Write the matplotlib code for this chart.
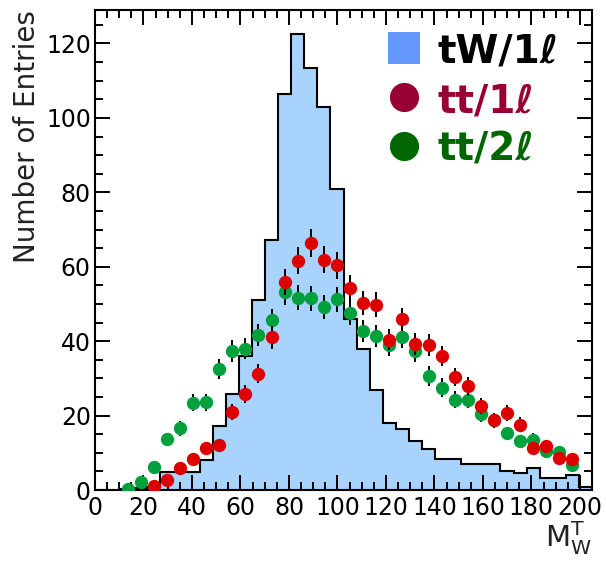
import numpy as np
import matplotlib
matplotlib.use("Agg")
import matplotlib.pyplot as plt
from matplotlib.ticker import MultipleLocator

# binning: 38 bins over the full axis range
x_max = 205.0
n_bins = 38

# tW/1l histogram (one value per bin)
tw_vals = [0, 0, 0.3, 0.6, 0.9, 4.8, 4.8, 4.8, 8.0, 17.3,
           25.7, 35.9, 51.0, 67.3, 106.4, 122.5, 113.4, 103.0, 81.0, 46.0,
           38.0, 26.9, 18.1, 16.5, 13.2, 11.1, 8.3, 8.3, 6.9, 6.9,
           6.9, 5.1, 4.7, 5.8, 3.1, 3.1, 4.1, 0.8]

# tt/1l points, bins 4..36
tt1_first = 4
tt1_vals = [1.1, 2.7, 5.8, 8.2, 11.4, 12.0, 21.0, 25.9, 31.3, 41.0,
            55.9, 61.6, 66.4, 61.9, 60.4, 54.3, 50.3, 49.8, 40.4, 45.9,
            39.2, 38.9, 36.0, 30.4, 27.9, 22.5, 18.7, 20.7, 17.6, 11.4,
            11.7, 8.6, 8.4]
tt1_errs = [0.5, 0.8, 1.1, 1.3, 1.6, 1.6, 2.1, 2.4, 2.6, 3.0,
            3.4, 3.6, 3.7, 3.6, 3.6, 3.4, 3.3, 3.3, 2.9, 3.1,
            2.9, 2.9, 2.8, 2.5, 2.4, 2.2, 2.0, 2.1, 1.9, 1.6,
            1.6, 1.4, 1.4]

# tt/2l points, bins 2..36
tt2_first = 2
tt2_vals = [0.4, 2.1, 6.2, 13.6, 16.6, 23.4, 23.6, 32.4, 37.4, 38.0,
            41.6, 45.6, 53.1, 51.7, 51.5, 49.2, 51.2, 47.6, 42.7, 41.3,
            38.9, 41.1, 37.4, 30.6, 27.5, 24.3, 24.3, 20.3, 18.7, 15.2,
            13.1, 13.5, 10.5, 10.1, 6.6]
tt2_errs = [0.3, 0.7, 1.2, 1.8, 2.0, 2.3, 2.3, 2.7, 2.9, 2.9,
            3.0, 3.1, 3.4, 3.3, 3.3, 3.3, 3.3, 3.2, 3.0, 3.0,
            2.9, 3.0, 2.9, 2.6, 2.5, 2.3, 2.3, 2.1, 2.0, 1.8,
            1.7, 1.7, 1.5, 1.5, 1.2]

legend_labels = ["tW/1ℓ", "tt/1ℓ", "tt/2ℓ"]

edges = np.linspace(0, x_max, n_bins + 1)
centers = 0.5 * (edges[:-1] + edges[1:])

plt.rcParams['font.family'] = ['DejaVu Sans']
plt.rcParams['mathtext.fontset'] = 'dejavusans'

fig = plt.figure(figsize=(6.06, 5.64), dpi=100)
ax = fig.add_axes([95 / 606, 1 - 490 / 564, 497 / 606, 480 / 564])

ax.stairs(tw_vals, edges, fill=True, color='#a8d3fc', zorder=1)
ax.stairs(tw_vals, edges, baseline=0, color='black', lw=1.5, zorder=2)

x2 = centers[tt2_first:tt2_first + len(tt2_vals)]
ax.errorbar(x2, tt2_vals, yerr=tt2_errs, fmt='none', ecolor='black',
            elinewidth=1.4, capsize=0, zorder=3)
ax.plot(x2, tt2_vals, 'o', color='#00a03c', ms=9.6, mew=0, zorder=4)

x1 = centers[tt1_first:tt1_first + len(tt1_vals)]
ax.errorbar(x1, tt1_vals, yerr=tt1_errs, fmt='none', ecolor='black',
            elinewidth=1.4, capsize=0, zorder=5)
ax.plot(x1, tt1_vals, 'o', color='#dd0000', ms=9.6, mew=0, zorder=6)

ax.set_xlim(0, x_max)
ax.set_ylim(0, 129)
ax.xaxis.set_major_locator(MultipleLocator(20))
ax.xaxis.set_minor_locator(MultipleLocator(5))
ax.yaxis.set_major_locator(MultipleLocator(20))
ax.yaxis.set_minor_locator(MultipleLocator(5))
ax.tick_params(which='both', direction='in', top=True, right=True,
               width=1.4, colors='black', labelsize=17)
ax.tick_params(which='major', length=11)
ax.tick_params(which='minor', length=6)
ax.tick_params(axis='x', pad=4)
ax.tick_params(axis='y', pad=3)
for sp in ax.spines.values():
    sp.set_linewidth(1.5)

ax.set_ylabel("Number of Entries", fontsize=20, loc='top', color='#222222')
ax.yaxis.set_label_coords(-0.108, 1.0)
ax.set_xlabel(r"$\mathrm{M}_{\mathrm{W}}^{\mathrm{T}}$", fontsize=21,
              loc='right', color='#222222')
ax.xaxis.set_label_coords(1.0, -0.06)
ax.xaxis.label.set_va('top')

# legend drawn by hand, ROOT style
leg_marker = ['s', 'o', 'o']
leg_mcolor = ['#6699ff', '#990033', '#006600']
leg_tcolor = ['black', '#990033', '#006600']
leg_msize = [23, 21, 21]
leg_y = [48, 97, 146]
for lab, m, mc, tc, ms, yy in zip(legend_labels, leg_marker, leg_mcolor,
                                  leg_tcolor, leg_msize, leg_y):
    ax.plot([(404 - 95) / 497], [(490 - yy) / 480], m, color=mc, ms=ms,
            mew=0, transform=ax.transAxes, clip_on=False, zorder=7)
    ax.text((438 - 95) / 497, (490 - yy) / 480, lab, color=tc,
            fontsize=28, fontweight='bold', ha='left', va='center_baseline',
            transform=ax.transAxes, zorder=7)

fig.savefig("out.png", dpi=100)
